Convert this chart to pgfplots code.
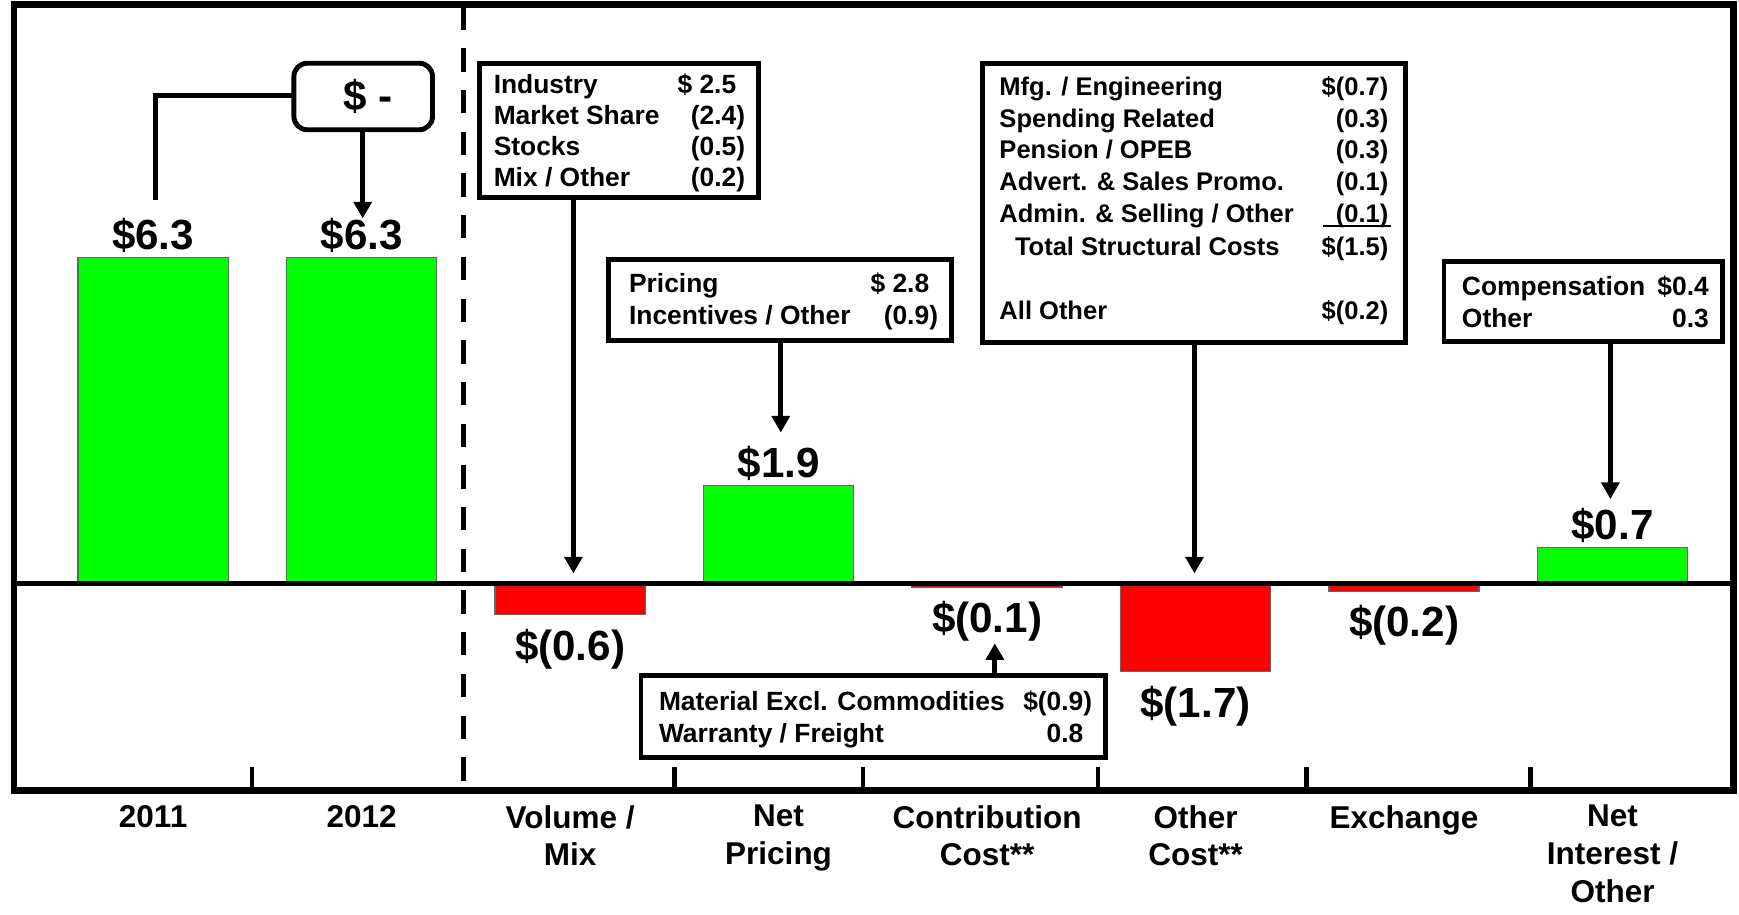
\documentclass[border=0pt]{standalone}
\usepackage{fontspec}
\setmainfont{Liberation Sans}
\usepackage{pgfplots}
\usepackage{pgfplotstable}
\pgfplotsset{compat=1.18}
\usetikzlibrary{arrows.meta}
\definecolor{bargreen}{RGB}{0,255,0}
\definecolor{barred}{RGB}{255,0,0}

\pgfplotstableread{
x y lab
0 6.3 \$6.3
1 6.3 \$6.3
3 1.9 \$1.9
7 0.7 \$0.7
}\posdata
\pgfplotstableread{
x y lab
2 -0.6 \$(0.6)
4 -0.07 \$(0.1)
5 -1.7 \$(1.7)
6 -0.15 \$(0.2)
}\negdata

\newcommand\boxL[3]{\node[anchor=base west,inner sep=0pt] at (#1,#2) {#3};}
\newcommand\boxR[3]{\node[anchor=base east,inner sep=0pt] at (#1,#2) {#3};}

\begin{document}
\begin{tikzpicture}
\path[use as bounding box] (0,0) rectangle (784pt,-412.5pt);
\begin{axis}[
  at={(6.25pt,-356.5pt)}, anchor=south west,
  scale only axis, width=775.25pt, height=354.5pt,
  xmin=-0.668, xmax=7.58, ymin=-4.0, ymax=11.185,
  axis line style={line width=3pt},
  ytick=\empty,
  xtick={0,1,2,3,4,5,6,7},
  xticklabels={2011,2012,{Volume /\\Mix},{Net\\Pricing},{Contribution\\Cost**},{Other\\Cost**},Exchange,{Net\\Interest /\\Other}},
  major tick length=0pt,
  xtick style={draw=none},
  xticklabel style={font=\fontsize{14.2}{17}\selectfont\bfseries, align=center, anchor=north, yshift=-3pt},
  ybar, bar width=0.72, bar shift=0pt,
  clip=false,
  nodes near coords, point meta=explicit symbolic,
]
\addplot[fill=bargreen, draw=black!60, line width=0.6pt,
  every node near coord/.style={anchor=base, yshift=3.5pt, text=black, font=\fontsize{19}{22}\selectfont\bfseries}]
  table[x=x, y=y, meta=lab] {\posdata};
\addplot[fill=barred, draw=black!60, line width=0.6pt,
  every node near coord/.style={anchor=base, yshift=-20.5pt, text=black, font=\fontsize{19}{22}\selectfont\bfseries}]
  table[x=x, y=y, meta=lab] {\negdata};
\end{axis}

\begin{scope}[x=0.5pt, y=-0.5pt, line width=2.2pt,
  arr/.style={-{Triangle[length=7.5pt,width=8pt]}}]
  % zero line
  \draw[line width=2.25pt] (12.5,526.2) -- (1563,526.2);
  % dashed separator
  \draw[line width=2.25pt, dash pattern=on 10.5pt off 8.3pt] (418,6) -- (418,705);
  % bottom separators
  \foreach \xx in {227,608,778,990,1178,1380}
    \draw[line width=2pt] (\xx,713) -- (\xx,692);

  % $ - box
  \draw[rounded corners=6pt] (265,57) rectangle (390,117);
  \node[anchor=base, inner sep=0pt, font=\fontsize{19}{22}\selectfont\bfseries] at (332,99.5) {\$ -};
  \draw (265,86) -- (140,86) -- (140,180);
  \draw[arr] (327,117) -- (327,197);

  \begin{scope}[every node/.append style={font=\fontsize{11.9}{14}\selectfont\bfseries}]
  % Volume / Mix box
  \draw (432,57) rectangle (684,178);
  \boxL{443}{84.5}{Industry} \boxR{674}{84.5}{\$ 2.5\phantom{)}}
  \boxL{443}{112.5}{Market Share} \boxR{674}{112.5}{(2.4)}
  \boxL{443}{140.5}{Stocks} \boxR{674}{140.5}{(0.5)}
  \boxL{443}{168.5}{Mix / Other} \boxR{674}{168.5}{(0.2)}
  \draw[arr] (517,178) -- (517,517);

  % Net Pricing box
  \draw (549,234) rectangle (858,307);
  \boxL{565}{263.5}{Pricing} \boxR{848}{263.5}{\$ 2.8\phantom{)}}
  \boxL{565}{292.5}{Incentives / Other} \boxR{848}{292.5}{(0.9)}
  \draw[arr] (704,307) -- (704,390);

  % Contribution box
  \draw (578,609) rectangle (997,683);
  \boxL{592}{640.5}{Material Excl. Commodities} \boxR{987}{640.5}{\$(0.9)}
  \boxL{592}{669.5}{Warranty / Freight} \boxR{987}{669.5}{0.8\phantom{)}}
  \draw[arr] (897,609) -- (897,580);

  % Net interest box
  \draw (1302,236) rectangle (1553,308);
  \boxL{1316}{266}{Compensation} \boxR{1543}{266}{\$0.4}
  \boxL{1316}{295}{Other} \boxR{1543}{295}{0.3}
  \draw[arr] (1452,308) -- (1452,450);
  \end{scope}

  \begin{scope}[every node/.append style={font=\fontsize{11.5}{14}\selectfont\bfseries}]
  % Other cost box
  \draw (886,57) rectangle (1267,309);
  \boxL{899}{86}{Mfg. / Engineering} \boxR{1254}{86}{\$(0.7)}
  \boxL{899}{115}{Spending Related} \boxR{1254}{115}{(0.3)}
  \boxL{899}{143}{Pension / OPEB} \boxR{1254}{143}{(0.3)}
  \boxL{899}{172}{Advert. \& Sales Promo.} \boxR{1254}{172}{(0.1)}
  \boxL{899}{201}{Admin. \& Selling / Other} \boxR{1254}{201}{(0.1)}
  \draw[line width=0.9pt] (1193,204) -- (1254,204);
  \boxL{913}{230}{Total Structural Costs} \boxR{1254}{230}{\$(1.5)}
  \boxL{899}{288}{All Other} \boxR{1254}{288}{\$(0.2)}
  \draw[arr] (1077,309) -- (1077,517);
  \end{scope}
\end{scope}
\end{tikzpicture}
\end{document}
